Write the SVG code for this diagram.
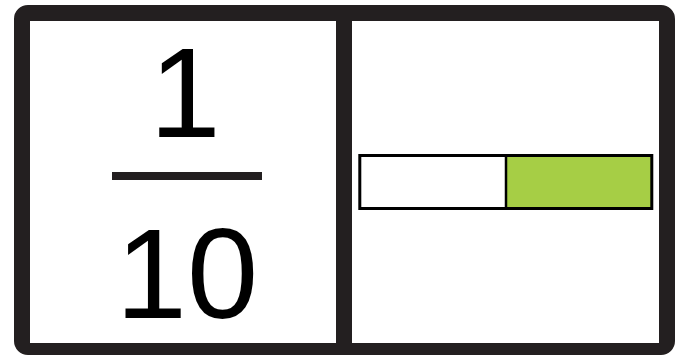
<svg xmlns="http://www.w3.org/2000/svg" width="681" height="356" viewBox="0 0 681 356">
<style>
.frame{fill:#231f20;fill-rule:evenodd}
.num{font-family:"Liberation Sans",Arial,sans-serif;font-size:128px;fill:#000;text-anchor:middle}
</style>
<rect width="681" height="356" fill="#fff"/>
<g id="frame">
<path class="frame" d="M28,5 H661 A14,14 0 0 1 675,19 V341 A14,14 0 0 1 661,355 H28 A14,14 0 0 1 14,341 V19 A14,14 0 0 1 28,5 Z M30,21 V343 H336 V21 Z M352,21 V343 H659 V21 Z"/>
</g>
<g id="fraction">
<text class="num" x="185" y="137">1</text>
<rect x="112" y="172" width="150" height="8" fill="#231f20"/>
<text class="num" x="187" y="318">10</text>
</g>
<g id="bar">
<rect x="506" y="155.5" width="146" height="53" fill="#a6ce45"/>
<rect x="359.8" y="155.5" width="292" height="53" fill="none" stroke="#000" stroke-width="3"/>
<line x1="506" y1="155.5" x2="506" y2="208.5" stroke="#000" stroke-width="2.5"/>
</g>
</svg>
